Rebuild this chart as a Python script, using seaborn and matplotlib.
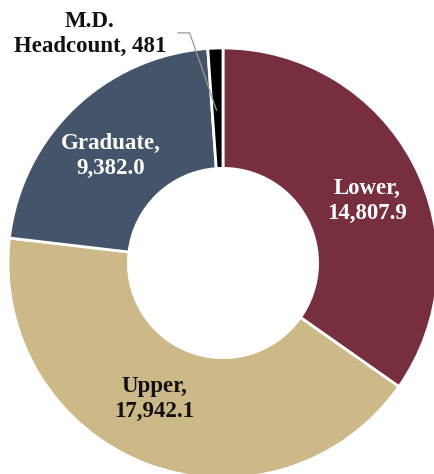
import matplotlib.pyplot as plt
import seaborn as sns

# %%
categories = ["Lower", "Upper", "Graduate", "M.D.\nHeadcount"]
values = [14807.9, 17942.1, 9382.0, 481]
value_labels = ["14,807.9", "17,942.1", "9,382.0", "481"]
colors = ["#772F40", "#CDB887", "#44546A", "#000000"]

# %%
sns.set_theme(style="white")
plt.rcParams["font.family"] = ["Liberation Serif", "DejaVu Serif"]

fig = plt.figure(figsize=(4.35, 4.74), dpi=100)
ax = fig.add_axes([0, 0, 1, 1])

wedges, _ = ax.pie(
    values,
    colors=colors,
    startangle=90,
    counterclock=False,
    radius=1,
    wedgeprops=dict(width=0.56, edgecolor="white", linewidth=2),
)

ax.set_xlim(-1.037, 0.986)
ax.set_ylim(-0.981, 1.223)
ax.set_aspect("auto")
ax.axis("off")

# label placement (data coords)
pos = [(0.67, 0.29), (-0.32, -0.63), (-0.52, 0.50)]
txt_colors = ["white", "#111111", "white"]
for (x, y), cat, lab, c in zip(pos, categories[:3], value_labels[:3], txt_colors):
    ax.text(x, y, f"{cat},\n{lab}", ha="center", va="center", color=c,
            fontsize=16.5, fontweight="bold", linespacing=1.25)

md_top, md_bottom = categories[3].split("\n")
ax.text(-0.62, 1.065, f"{md_top}\n{md_bottom}, {value_labels[3]}",
        ha="center", va="center", color="#111111", fontsize=16.5,
        fontweight="bold", linespacing=1.2)
ax.plot([-0.21, -0.155, -0.03], [1.07, 1.07, 0.71], color="#999999", lw=0.9)

fig.savefig("out.png", dpi=100)
